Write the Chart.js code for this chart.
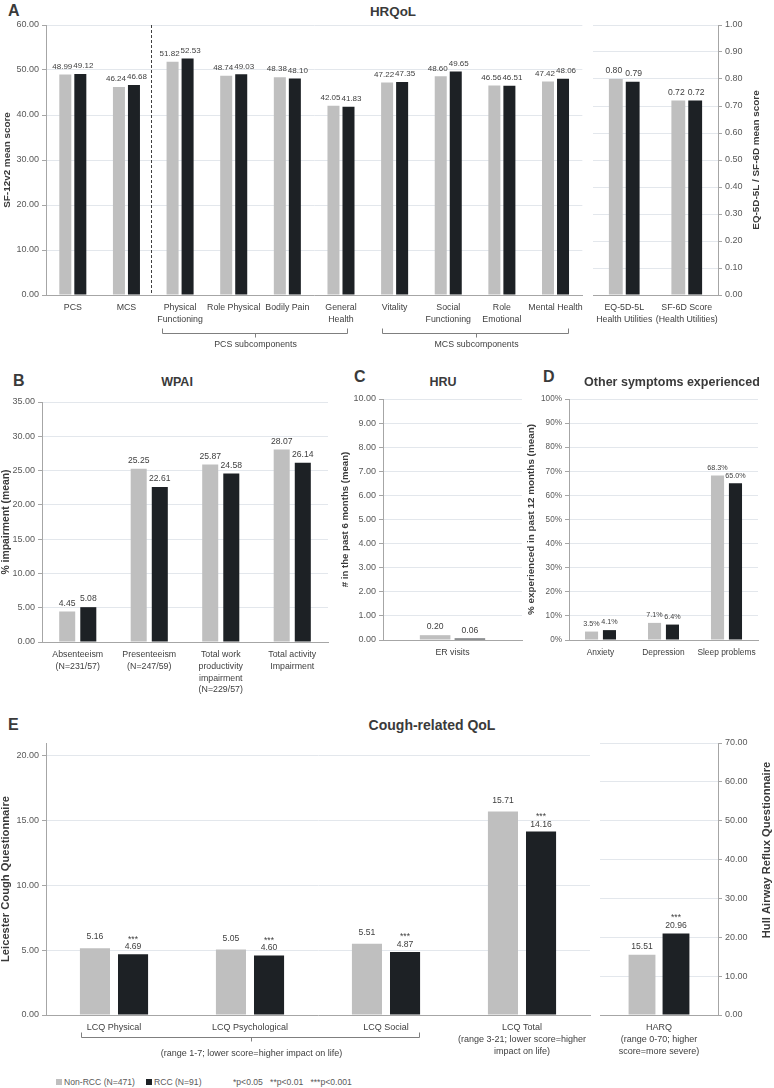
<!DOCTYPE html>
<html>
<head>
<meta charset="utf-8">
<script src="https://cdn.jsdelivr.net/npm/chart.js@4.4.1/dist/chart.umd.min.js"></script>
<style>
body { margin: 0; background: #fff; width: 774px; height: 1088px; position: relative; overflow: hidden;
       font-family: 'Liberation Sans', Arial, sans-serif; color: #404040; }
canvas { position: absolute; }
.lt { position: absolute; font: bold 16px 'Liberation Sans', Arial, sans-serif; color: #3a3a3a; transform: translateY(-50%); }
.tt { position: absolute; font-weight: bold; font-size: 12.5px; color: #3a3a3a; white-space: nowrap; transform: translate(-50%, -50%); }
.lg { position: absolute; top: 1076px; font-size: 8.6px; color: #595959; white-space: pre; line-height: 12px; }
.sq { position: absolute; top: 1079px; width: 6px; height: 6px; }
</style>
</head>
<body>
<div class="lt" style="left:8px;top:11px">A</div>
<div class="tt" style="left:393px;top:11px;font-size:13.4px">HRQoL</div>
<canvas id="chartSf" width="590" height="340" style="left:0;top:15px"></canvas>
<canvas id="chartUtil" width="188" height="340" style="left:586px;top:15px"></canvas>

<div class="lt" style="left:13px;top:381px">B</div>
<div class="tt" style="left:177px;top:382px">WPAI</div>
<canvas id="chartWpai" width="335" height="315" style="left:0;top:392px"></canvas>

<div class="lt" style="left:354px;top:377px">C</div>
<div class="tt" style="left:443px;top:382px">HRU</div>
<canvas id="chartHru" width="190" height="290" style="left:340px;top:389px"></canvas>

<div class="lt" style="left:543px;top:377px">D</div>
<div class="tt" style="left:672px;top:382px">Other symptoms experienced</div>
<canvas id="chartSymp" width="254" height="290" style="left:520px;top:389px"></canvas>

<div class="lt" style="left:8px;top:725px">E</div>
<div class="tt" style="left:432px;top:725px;font-size:14px">Cough-related QoL</div>
<canvas id="chartLcq" width="596" height="340" style="left:0;top:733px"></canvas>
<canvas id="chartHarq" width="178" height="340" style="left:596px;top:733px"></canvas>

<div class="sq" style="left:56px;background:#bfbfbf"></div>
<div class="lg" style="left:64px">Non-RCC (N=471)</div>
<div class="sq" style="left:146px;background:#1d2125"></div>
<div class="lg" style="left:154px">RCC (N=91)</div>
<div class="lg" style="left:233px">*p&lt;0.05   **p&lt;0.01   ***p&lt;0.001</div>

<script>
// values
const sfCats = ['PCS', 'MCS', ['Physical', 'Functioning'], 'Role Physical', 'Bodily Pain', ['General', 'Health'],
                'Vitality', ['Social', 'Functioning'], ['Role', 'Emotional'], 'Mental Health'];
const sfNonRcc = [48.99, 46.24, 51.82, 48.74, 48.38, 42.05, 47.22, 48.60, 46.56, 47.42];
const sfRcc = [49.12, 46.68, 52.53, 49.03, 48.10, 41.83, 47.35, 49.65, 46.51, 48.06];

const utilCats = [['EQ-5D-5L', 'Health Utilities'], ['SF-6D Score', '(Health Utilities)']];
const utilNonRcc = [0.80, 0.72];
const utilRcc = [0.79, 0.72];

const wpaiCats = [['Absenteeism', '(N=231/57)'], ['Presenteeism', '(N=247/59)'],
                  ['Total work', 'productivity', 'impairment', '(N=229/57)'], ['Total activity', 'Impairment']];
const wpaiNonRcc = [4.45, 25.25, 25.87, 28.07];
const wpaiRcc = [5.08, 22.61, 24.58, 26.14];

const hruCats = ['ER visits'];
const hruNonRcc = [0.20];
const hruRcc = [0.06];

const sympCats = ['Anxiety', 'Depression', 'Sleep problems'];
const sympNonRcc = [3.5, 7.1, 68.3];
const sympRcc = [4.1, 6.4, 65.0];

const lcqCats = ['LCQ Physical', 'LCQ Psychological', 'LCQ Social',
                 ['LCQ Total', '(range 3-21; lower score=higher', 'impact on life)']];
const lcqNonRcc = [5.16, 5.05, 5.51, 15.71];
const lcqRcc = [4.69, 4.60, 4.87, 14.16];
const lcqSig = ['***', '***', '***', '***'];

const harqCats = [['HARQ', '(range 0-70; higher', 'score=more severe)']];
const harqNonRcc = [15.51];
const harqRcc = [20.96];
const harqSig = ['***'];

const FONT = "'Liberation Sans', Arial, sans-serif";
Chart.defaults.font.family = FONT;
Chart.defaults.color = '#595959';
const GREY = '#bfbfbf', DARK = '#1d2125', GRID = '#e3e7ec', AXIS = '#a6a6a6';

/*value labels above each bar, plus significance stars over the RCC bar*/
const barLabels = {
    id: 'barLabels',
    afterDatasetsDraw(chart, args, o) {
        const ctx = chart.ctx;
        ctx.save();
        ctx.font = o.size + 'px ' + FONT;
        ctx.fillStyle = '#404040';
        ctx.textAlign = 'center';
        ctx.textBaseline = 'bottom';
        chart.data.datasets.forEach((ds, i) => {
            chart.getDatasetMeta(i).data.forEach((bar, j) => {
                const x = bar.x + o.shift[i];
                const y = bar.y - o.gap[i];
                ctx.fillText(o.fmt(ds.data[j]), x, y);
                if (o.sig && i == 1) ctx.fillText(o.sig[j], x, y - o.size + 1);
            });
        });
        ctx.restore();
    }
};

/*dashed divider, braces under grouped categories, and the right-hand axis titles
  (those read bottom to top, which Chart.js does not do for a right axis)*/
const extras = {
    id: 'extras',
    afterDraw(chart, args, o) {
        const ctx = chart.ctx, xs = chart.scales.x, area = chart.chartArea;
        ctx.save();
        if (o.divider !== undefined) {
            const x = Math.round(xs.getPixelForValue(o.divider)) + 0.5;
            ctx.strokeStyle = '#404040';
            ctx.setLineDash([3, 2]);
            ctx.beginPath();
            ctx.moveTo(x, area.top);
            ctx.lineTo(x, area.bottom);
            ctx.stroke();
            ctx.setLineDash([]);
        }
        (o.brackets || []).forEach(b => {
            const x1 = Math.round(xs.getPixelForValue(b.from)) + 0.5;
            const x2 = Math.round(xs.getPixelForValue(b.to)) + 0.5;
            const xm = Math.round((x1 + x2) / 2) + 0.5;
            const y = Math.round(area.bottom + o.dy) + 0.5;
            ctx.strokeStyle = '#7f7f7f';
            ctx.lineWidth = 1;
            ctx.beginPath();
            ctx.moveTo(x1, y - 5); ctx.lineTo(x1, y); ctx.lineTo(x2, y); ctx.lineTo(x2, y - 5);
            ctx.moveTo(xm, y); ctx.lineTo(xm, y + 4);
            ctx.stroke();
            ctx.font = o.textSize + 'px ' + FONT;
            ctx.fillStyle = '#404040';
            ctx.textAlign = 'center';
            ctx.textBaseline = 'middle';
            ctx.fillText(b.text, xm, area.bottom + o.textDy);
        });
        if (o.sideTitle) {
            const t = o.sideTitle;
            ctx.translate(area.right + t.dx, t.y !== undefined ? t.y : (area.top + area.bottom) / 2);
            ctx.rotate(-Math.PI / 2);
            ctx.font = 'bold ' + t.size + 'px ' + FONT;
            ctx.fillStyle = '#3a3a3a';
            ctx.textAlign = 'center';
            ctx.textBaseline = 'middle';
            ctx.fillText(t.text, 0, 0);
        }
        ctx.restore();
    }
};

function makeBars(id, cats, nonRcc, rcc, o) {
    const yScale = {
        position: o.yPos || 'left',
        min: 0,
        max: o.max,
        border: { color: AXIS },
        grid: { color: GRID, tickLength: 4, tickColor: AXIS },
        ticks: { stepSize: o.step, includeBounds: false, padding: 3,
                 font: { size: o.tickSize || 9 }, color: '#595959', callback: o.tickFmt },
        afterFit: s => { s.width = o.yWidth; }
    };
    if (o.yTitle) {
        yScale.title = { display: true, text: o.yTitle, color: '#3a3a3a',
                         font: { size: o.titleSize || 9.9, weight: 'bold', lineHeight: 1.1 },
                         padding: { top: o.titlePad || 0, bottom: 0 } };
    }
    return new Chart(document.getElementById(id), {
        type: 'bar',
        data: {
            labels: cats,
            datasets: [
                { label: 'Non-RCC (N=471)', data: nonRcc, backgroundColor: GREY },
                { label: 'RCC (N=91)', data: rcc, backgroundColor: DARK }
            ]
        },
        options: {
            responsive: false,
            animation: false,
            categoryPercentage: o.catPct,
            barPercentage: o.barPct,
            layout: { padding: o.pad },
            scales: {
                x: {
                    grid: { display: false, drawTicks: false },
                    border: { color: AXIS },
                    ticks: { padding: 7, maxRotation: 0, autoSkip: false, color: '#404040',
                             font: { size: o.catSize || 8.8, lineHeight: 1.33 } },
                    afterFit: s => { s.height = o.xHeight; }
                },
                y: yScale
            },
            plugins: {
                legend: { display: false },
                tooltip: { enabled: false },
                barLabels: { fmt: o.fmt, size: o.labelSize || 8.6, gap: o.gap || [4, 4],
                             shift: o.shift || [0, 0], sig: o.sig },
                extras: { divider: o.divider, brackets: o.brackets, dy: o.dy, textDy: o.textDy,
                          textSize: o.catSize || 8.8, sideTitle: o.sideTitle }
            }
        },
        plugins: [barLabels, extras]
    });
}

const two = v => v.toFixed(2);

makeBars('chartSf', sfCats, sfNonRcc, sfRcc, {
    max: 60, step: 10, tickFmt: two, fmt: two, yWidth: 46, xHeight: 60, labelSize: 8,
    pad: { top: 10, right: 7, left: 0, bottom: 0 }, catPct: 0.56, barPct: 0.8,
    yTitle: 'SF-12v2 mean score', titlePad: 2, shift: [-3, 3],
    divider: 1.45, dy: 38, textDy: 50,
    brackets: [
        { from: 2 - 0.33, to: 5 + 0.12, text: 'PCS subcomponents' },
        { from: 6 - 0.24, to: 9 + 0.24, text: 'MCS subcomponents' }
    ]
});

makeBars('chartUtil', utilCats, utilNonRcc, utilRcc, {
    max: 1, step: 0.1, tickFmt: two, fmt: two, yPos: 'right', yWidth: 56, xHeight: 60,
    pad: { top: 10, right: 0, left: 7, bottom: 0 }, catPct: 0.54, barPct: 0.82, shift: [-2, 1],
    sideTitle: { text: 'EQ-5D-5L / SF-6D mean score', dx: 38, size: 9.9 }
});

makeBars('chartWpai', wpaiCats, wpaiNonRcc, wpaiRcc, {
    max: 35, step: 5, tickFmt: two, fmt: two, yWidth: 42, xHeight: 65,
    pad: { top: 10, right: 7, left: 0, bottom: 0 }, catPct: 0.59, barPct: 0.76,
    yTitle: '% impairment (mean)', titleSize: 10.4
});

makeBars('chartHru', hruCats, hruNonRcc, hruRcc, {
    max: 10, step: 1, tickFmt: two, fmt: two, yWidth: 43, xHeight: 39,
    pad: { top: 10, right: 8, left: 0, bottom: 0 }, catPct: 0.5, barPct: 0.88,
    yTitle: '# in the past 6 months (mean)', titleSize: 9.6
});

makeBars('chartSymp', sympCats, sympNonRcc, sympRcc, {
    max: 100, step: 10, tickFmt: v => v + '%', fmt: v => v.toFixed(1) + '%', tickSize: 8.2,
    labelSize: 7.2, catSize: 8.4, yWidth: 49, xHeight: 39,
    pad: { top: 10, right: 16, left: 0, bottom: 0 }, catPct: 0.57, barPct: 0.73,
    yTitle: '% experienced in past 12 months (mean)', titlePad: 6
});

makeBars('chartLcq', lcqCats, lcqNonRcc, lcqRcc, {
    max: 21, step: 5, tickFmt: two, fmt: two, yWidth: 46, xHeight: 58,
    pad: { top: 10, right: 6, left: 0, bottom: 0 }, catPct: 0.56, barPct: 0.79,
    yTitle: 'Leicester Cough Questionnaire', titleSize: 11.2, gap: [7, 3], sig: lcqSig,
    dy: 22, textDy: 39, catSize: 9,
    brackets: [{ from: -0.24, to: 2.24, text: '(range 1-7; lower score=higher impact on life)' }]
});

makeBars('chartHarq', harqCats, harqNonRcc, harqRcc, {
    max: 70, step: 10, tickFmt: two, fmt: two, yPos: 'right', yWidth: 56, xHeight: 58,
    pad: { top: 10, right: 0, left: 4, bottom: 0 }, catPct: 0.576, barPct: 0.79,
    gap: [4, 4], sig: harqSig, catSize: 9,
    sideTitle: { text: 'Hull Airway Reflux Questionnaire', dx: 49, y: 117, size: 11.2 }
});
</script>
</body>
</html>
